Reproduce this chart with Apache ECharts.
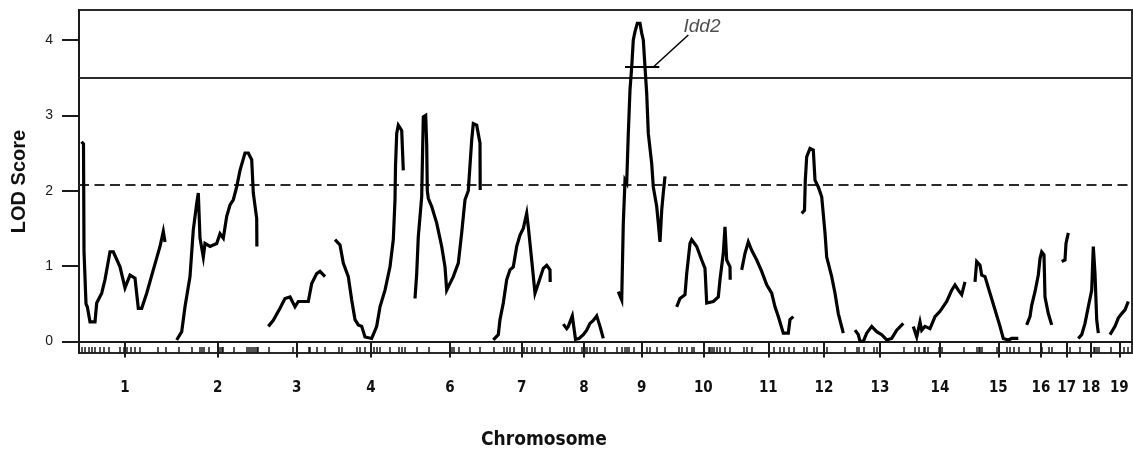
<!DOCTYPE html>
<html>
<head>
<meta charset="utf-8">
<script src="https://cdn.jsdelivr.net/npm/echarts@6/dist/echarts.min.js"></script>
<style>
  html, body { margin: 0; padding: 0; background: #fff; }
  #chart { width: 1133px; height: 457px; }
</style>
</head>
<body>
<div id="chart"></div>
<script>
// Genome-wide LOD profile, positions in cumulative map units along the genome.
const genomeLength = 1053;

const chromLabels = ['1', '2', '3', '4', '6', '7', '8', '9', '10', '11', '12', '13', '14', '15', '16', '17', '18', '19'];
const chromTicks = [46, 138.7, 217.7, 292, 371, 442.7, 505, 562.7, 624.3, 689.3, 745, 801, 861, 919.3, 962, 987.7, 1012, 1040.3];

const yTicks = [0, 1, 2, 3, 4];

// Significance thresholds (LOD)
const significantLod = 3.5;
const suggestiveLod = 2.08;

// Genotyped marker positions
const markerPos = [
  2.7, 6, 9.3, 12.7, 16, 20.3, 24.3, 29.3, 41, 44.3, 47.7, 52, 56, 60.3, 78.7, 86.7, 100,
  112.7, 120.3, 122.7, 125, 129.3, 141, 142.5, 144, 154.3, 167.7, 169.5, 171.5, 173.5, 175.5,
  177.5, 179, 189.3, 213.7, 217.7, 229.3, 231, 237.7, 246, 259.3, 262.7, 277.7, 281, 286,
  294.3, 297.7, 301, 311, 319.3, 322.7, 326, 337.7, 349.3, 371, 372.7, 374.3, 379.3, 391, 401,
  414.3, 424.3, 427.7, 431, 434.3, 444.3, 447.7, 452.7, 456, 462.7, 471, 484.3, 487.7, 491,
  494.3, 502.7, 504.5, 506, 507.7, 511, 514.3, 517.7, 526, 537.7, 542.7, 546, 547.7, 549.3,
  554.3, 567.7, 571, 577.7, 586, 599.3, 602.7, 607.7, 612.7, 614.3, 629.3, 631, 632.7, 634.3,
  637.7, 641, 646, 651, 664.3, 667.7, 672.7, 689.3, 694.3, 701, 704.3, 709.3, 714.3, 724.3,
  727.7, 734.3, 737.7, 744.3, 747.7, 766, 777.7, 779.3, 784.3, 794.3, 797.7, 800.3, 824.3, 836,
  839.3, 844.3, 846, 848.3, 859.3, 861, 862.7, 884.3, 897.7, 899.5, 901, 902.7, 917.7, 927.7,
  931, 934.3, 940, 951, 962.7, 969.3, 972.7, 987.7, 991, 1001, 1014.3, 1016, 1017.7, 1019.3,
  1031.7, 1044.3, 1048.3
];

// LOD scans per chromosome: [position, LOD]
const chr1 = [[2.5,2.65],[4.5,2.62],[5,1.2],[7,0.5],[8.3,0.46],[11,0.26],[16,0.26],[17.7,0.51],[22.7,0.64],[26,0.82],[31,1.19],[34.3,1.19],[41,0.99],[46,0.71],[51,0.88],[56,0.84],[59.3,0.44],[62.7,0.44],[67.7,0.64],[74.3,0.95],[81,1.26],[84.3,1.46],[86,1.32]];
const chr2 = [[97.7,0.02],[102.7,0.13],[106,0.46],[111,0.86],[114.3,1.48],[117.7,1.83],[119.3,1.97],[121,1.37],[124.3,1.12],[126,1.30],[131,1.26],[137.7,1.30],[141,1.43],[144.3,1.37],[147.7,1.66],[151,1.81],[154.3,1.88],[157.7,2.05],[161,2.27],[166,2.50],[169.3,2.50],[172.7,2.41],[174.3,1.97],[177.7,1.63],[177.9,1.26]];
const chr3 = [[189.3,0.2],[194.3,0.28],[201,0.44],[206,0.57],[211,0.59],[216,0.46],[219.3,0.53],[229.3,0.53],[232.7,0.77],[237.7,0.90],[241,0.93],[246,0.86]];
const chr4 = [[256,1.35],[261,1.28],[264.3,1.04],[269.3,0.86],[272.7,0.55],[276,0.29],[279.3,0.22],[282.7,0.20],[286,0.06],[292.7,0.04],[297.7,0.20],[301,0.46],[306,0.68],[311,0.99],[314.3,1.35],[316,1.88],[316.5,2.32],[317.7,2.76],[319.3,2.87],[322.7,2.80],[324.3,2.27]];
const chr6 = [[336,0.57],[337.7,0.90],[339.3,1.39],[342.7,1.92],[344.3,2.98],[346.7,3.0],[347.7,2.61],[348.3,2.0],[349.3,1.9],[352.7,1.79],[357.7,1.57],[362.7,1.26],[366,0.99],[367.7,0.68],[371,0.77],[374.3,0.86],[379.3,1.04],[382.7,1.44],[386,1.88],[389.3,2.0],[392.7,2.67],[394.3,2.89],[397.7,2.87],[401,2.63],[401.2,2.01]];
const chr7 = [[414.3,0.02],[419.3,0.09],[421,0.29],[424.3,0.51],[427.7,0.82],[431,0.95],[434.3,0.99],[437.7,1.26],[441,1.41],[444.3,1.50],[447.7,1.70],[449.3,1.52],[452.7,1.08],[456,0.64],[459.3,0.77],[464.3,0.97],[467.7,1.01],[471,0.95],[471.2,0.79]];
const chr8 = [[484.3,0.23],[487.7,0.17],[489.3,0.2],[493.3,0.34],[496.5,0.03],[500,0.04],[504.3,0.09],[507.7,0.15],[511,0.24],[514.3,0.28],[517.7,0.34],[521,0.2],[524.3,0.04]];
const chr9 = [[539.3,0.66],[542.7,0.55],[544.3,1.57],[546,2.14],[547.7,2.10],[549.3,2.76],[551,3.34],[552.7,3.64],[554.3,4.0],[556,4.11],[558.3,4.22],[561,4.22],[562.7,4.09],[564.3,4.0],[566,3.64],[567.7,3.29],[569.3,2.76],[572.7,2.36],[574.3,2.05],[577.7,1.79],[579.3,1.57],[581,1.32],[582.7,1.74],[584.3,1.97],[586,2.19]];
const chr10 = [[597.7,0.46],[601,0.57],[606,0.62],[607.7,0.90],[611,1.30],[612.7,1.35],[617.7,1.26],[622.7,1.08],[626,0.97],[627.7,0.51],[634.3,0.53],[639.3,0.59],[641,0.82],[644.3,1.17],[646,1.52],[647.7,1.08],[651,0.99],[651.2,0.82]];
const chr11 = [[662.7,0.95],[666,1.17],[669.3,1.32],[672.7,1.21],[677.7,1.08],[682.7,0.93],[687.7,0.75],[692.7,0.64],[696,0.46],[699.3,0.33],[704.3,0.11],[709.3,0.11],[711,0.29],[714.3,0.33]];
const chr12 = [[722.7,1.70],[725.5,1.74],[726.3,2.14],[727.7,2.45],[731,2.56],[734.3,2.54],[736,2.14],[739.3,2.05],[742.7,1.92],[746,1.44],[747.7,1.12],[752.7,0.86],[756,0.64],[759.3,0.37],[764.3,0.11]];
const chr13 = [[776,0.15],[779.3,0.09],[781,0.0],[784.3,0.0],[787.7,0.11],[792.7,0.20],[797.7,0.13],[802.7,0.09],[807.7,0.02],[812.7,0.04],[817.7,0.15],[824.3,0.24]];
const chr14 = [[834.3,0.20],[837.7,0.06],[841,0.26],[842.7,0.15],[846,0.20],[851,0.17],[856,0.33],[861,0.40],[867.7,0.53],[872.7,0.68],[876,0.75],[879.3,0.68],[882.7,0.62],[886,0.79]];
const chr15 = [[896,0.79],[897.7,1.06],[901,1.01],[902.7,0.88],[906,0.86],[911,0.64],[916,0.42],[921,0.20],[924.3,0.04],[929.3,0.02],[932.7,0.04],[939.3,0.04]];
const chr16 = [[947.7,0.22],[951,0.33],[952.7,0.48],[956,0.66],[959.3,0.88],[961,1.10],[962.7,1.19],[965,1.15],[966,0.59],[969.3,0.37],[972.7,0.22]];
const chr17 = [[982.7,1.06],[986,1.08],[987,1.30],[989.3,1.44]];
const chr18 = [[999.3,0.04],[1002.7,0.09],[1006,0.24],[1009.3,0.46],[1012.7,0.68],[1014.3,1.26],[1016,0.90],[1017.7,0.29],[1019.3,0.11]];
const chr19 = [[1031,0.09],[1036,0.20],[1039.3,0.31],[1042.7,0.37],[1046,0.42],[1049.3,0.53]];

const scans = [chr1, chr2, chr3, chr4, chr6, chr7, chr8, chr9, chr10, chr11, chr12, chr13, chr14, chr15, chr16, chr17, chr18, chr19];

// Idd2 locus: support interval bar, leader line and label anchor
const idd2Interval = [[546, 3.64], [580.3, 3.64]];
const idd2Leader = [[574.3, 3.64], [609.3, 4.065]];
const idd2LabelAt = [623, 4.17];

const narrowBold = '"Liberation Sans Narrow", "DejaVu Sans Condensed", "Liberation Sans", Arial, sans-serif';
const plainSans = '"Liberation Sans", Arial, Helvetica, sans-serif';

const chart = echarts.init(document.getElementById('chart'), null, { renderer: 'canvas' });

const scanSeries = scans.map((pts, i) => ({
  name: 'Chr ' + chromLabels[i],
  type: 'line',
  xAxisIndex: 0,
  yAxisIndex: 0,
  data: pts,
  showSymbol: false,
  symbol: 'none',
  lineStyle: { color: '#000', width: 3.2, join: 'miter' },
  z: 5,
  silent: true
}));

scanSeries[0].markLine = {
  symbol: 'none',
  silent: true,
  label: { show: false },
  data: [
    { yAxis: significantLod, lineStyle: { type: 'solid', color: '#2a2a2a', width: 2 } },
    { yAxis: suggestiveLod, lineStyle: { type: [10, 5.5], color: '#2a2a2a', width: 2 } }
  ]
};

const option = {
  animation: false,
  backgroundColor: '#fff',
  grid: [
    { left: 79, right: 1, top: 10, bottom: 104, show: true, borderColor: '#2a2a2a', borderWidth: 2, containLabel: false },
    { left: 79, right: 1, top: 10, bottom: 104, show: false, containLabel: false }
  ],
  xAxis: [
    {
      type: 'value', gridIndex: 0, min: 0, max: genomeLength,
      axisLine: { show: true, lineStyle: { color: '#1a1a1a', width: 2 } },
      axisTick: { show: true, customValues: chromTicks, length: 16, lineStyle: { color: '#1a1a1a', width: 2 } },
      axisLabel: {
        show: true, customValues: chromTicks, margin: 28,
        fontFamily: narrowBold, fontWeight: 'bold', fontSize: 15, color: '#111',
        formatter: v => {
          const i = chromTicks.indexOf(v);
          return i >= 0 ? chromLabels[i] : '';
        }
      },
      splitLine: { show: false }
    },
    {
      type: 'value', gridIndex: 1, min: 0, max: genomeLength,
      axisLine: { show: false },
      axisTick: { show: true, inside: true, customValues: markerPos, length: 6, lineStyle: { color: '#1a1a1a', width: 1.5 } },
      axisLabel: { show: false },
      splitLine: { show: false }
    }
  ],
  yAxis: [
    {
      type: 'value', gridIndex: 0, min: -0.153, max: 4.397,
      name: 'LOD Score', nameLocation: 'middle', nameGap: 50,
      nameTextStyle: { fontFamily: plainSans, fontWeight: 'bold', fontSize: 20, color: '#111' },
      axisLine: { show: true, lineStyle: { color: '#1a1a1a', width: 2 } },
      axisTick: { show: true, customValues: yTicks, length: 17, lineStyle: { color: '#1a1a1a', width: 2 } },
      axisLabel: { show: true, customValues: yTicks, margin: 26, fontFamily: plainSans, fontSize: 14, color: '#1a1a1a' },
      splitLine: { show: false }
    },
    {
      type: 'value', gridIndex: 1, min: 0, max: 1, show: false
    }
  ],
  graphic: [
    {
      type: 'text', left: 543 - 62, top: 431,
      style: { text: 'Chromosome', font: 'bold 19px ' + narrowBold, fill: '#111' }
    }
  ],
  series: scanSeries.concat([
    {
      name: 'Idd2 interval', type: 'line', data: idd2Interval, symbol: 'none',
      lineStyle: { color: '#000', width: 2 }, z: 6, silent: true
    },
    {
      name: 'Idd2 leader', type: 'line', data: idd2Leader, symbol: 'none',
      lineStyle: { color: '#000', width: 1.5 }, z: 6, silent: true
    },
    {
      name: 'Idd2 label', type: 'scatter', data: [idd2LabelAt], symbolSize: 0.1, silent: true,
      label: {
        show: true, position: 'inside', formatter: 'Idd2',
        fontFamily: plainSans, fontStyle: 'italic', fontSize: 19, color: '#222'
      }
    }
  ])
};

chart.setOption(option);
</script>
</body>
</html>
